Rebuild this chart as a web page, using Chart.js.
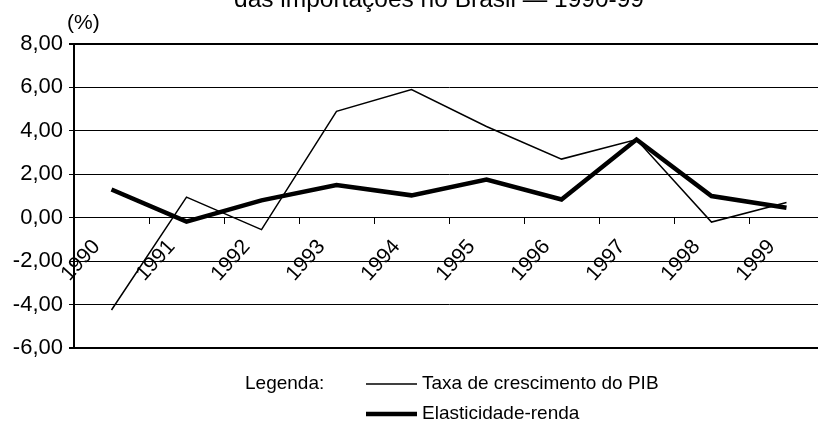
<!DOCTYPE html>
<html>
<head>
<meta charset="utf-8">
<script src="https://cdn.jsdelivr.net/npm/chart.js@4"></script>
<style>
  html, body { margin: 0; padding: 0; background: #fff; overflow: hidden; width: 818px; height: 431px; }
  #wrap { position: absolute; left: 0; top: -30px; width: 830px; height: 461px; }
</style>
</head>
<body>
<div id="wrap"><canvas id="chart" width="830" height="461"></canvas></div>
<script>
// Chart data
const titleText = 'das importações no Brasil — 1990-99';
const unitLabel = '(%)';
const legendHeading = 'Legenda:';
const years = ['1990', '1991', '1992', '1993', '1994', '1995', '1996', '1997', '1998', '1999'];
const pibGrowth = [-4.25, 0.95, -0.55, 4.9, 5.9, 4.2, 2.7, 3.6, -0.2, 0.7];
const incomeElasticity = [1.3, -0.18, 0.8, 1.5, 1.03, 1.76, 0.84, 3.6, 1.0, 0.46];
const yTickValues = [-6, -4, -2, 0, 2, 4, 6, 8];

const FONT = "'Liberation Sans', Arial, Helvetica, sans-serif";
const SHIFT = 30; // canvas is pulled up so only the last title line shows

Chart.defaults.font.family = FONT;
Chart.defaults.color = '#000';

const formatTick = v => v.toFixed(2).replace('.', ',');

// Draws the title, the "(%)" unit and the two-row legend under the plot
const extrasPlugin = {
    id: 'extras',
    afterDraw(chart) {
        const ctx = chart.ctx;
        ctx.save();
        ctx.fillStyle = '#000';

        ctx.font = `24.5px ${FONT}`;
        ctx.textAlign = 'center';
        ctx.textBaseline = 'alphabetic';
        ctx.fillText(titleText, 439, SHIFT + 7);

        ctx.textBaseline = 'middle';
        ctx.textAlign = 'left';
        ctx.font = `21px ${FONT}`;
        ctx.fillText(unitLabel, 67, SHIFT + 23);

        ctx.font = `19px ${FONT}`;
        ctx.fillText(legendHeading, 245, SHIFT + 384);
        chart.data.datasets.forEach((ds, i) => {
            const y = SHIFT + 384 + i * 30;
            ctx.strokeStyle = ds.borderColor;
            ctx.lineWidth = ds.borderWidth;
            ctx.beginPath();
            ctx.moveTo(366, y);
            ctx.lineTo(417, y);
            ctx.stroke();
            ctx.fillText(ds.label, 422, y);
        });
        ctx.restore();
    }
};

new Chart(document.getElementById('chart'), {
    type: 'line',
    data: {
        labels: years,
        datasets: [
            {
                label: 'Taxa de crescimento do PIB',
                data: pibGrowth,
                borderColor: '#000',
                borderWidth: 1.5,
                pointRadius: 0,
                tension: 0,
                borderJoinStyle: 'miter'
            },
            {
                label: 'Elasticidade-renda',
                data: incomeElasticity,
                borderColor: '#000',
                borderWidth: 4.5,
                pointRadius: 0,
                tension: 0,
                borderJoinStyle: 'miter'
            }
        ]
    },
    options: {
        responsive: false,
        animation: false,
        layout: { padding: { left: 0, right: 6, top: 74, bottom: 83 } },
        plugins: {
            legend: { display: false },
            tooltip: { enabled: false },
            title: { display: false }
        },
        scales: {
            x: {
                type: 'category',
                position: { y: 0 },
                offset: true,
                grid: { drawOnChartArea: false, drawTicks: true, tickLength: 6, offset: true, color: '#000', lineWidth: 1 },
                border: { display: true, color: '#000', width: 1 },
                ticks: {
                    autoSkip: false,
                    minRotation: 48,
                    maxRotation: 48,
                    padding: 11,
                    labelOffset: -15,
                    color: '#000',
                    font: { size: 21 }
                }
            },
            y: {
                min: -6,
                max: 8,
                afterBuildTicks: scale => {
                    scale.ticks = yTickValues.map(v => ({ value: v }));
                },
                afterFit: scale => {
                    scale.width = 74;
                },
                grid: {
                    color: '#000',
                    lineWidth: c => (c.tick && (c.tick.value === 8 || c.tick.value === -6)) ? 2 : 1,
                    tickLength: 5,
                    drawTicks: true
                },
                border: { display: true, color: '#000', width: 2 },
                ticks: {
                    padding: 6,
                    color: '#000',
                    font: { size: 22 },
                    callback: v => formatTick(v)
                }
            }
        }
    },
    plugins: [extrasPlugin]
});
</script>
</body>
</html>
